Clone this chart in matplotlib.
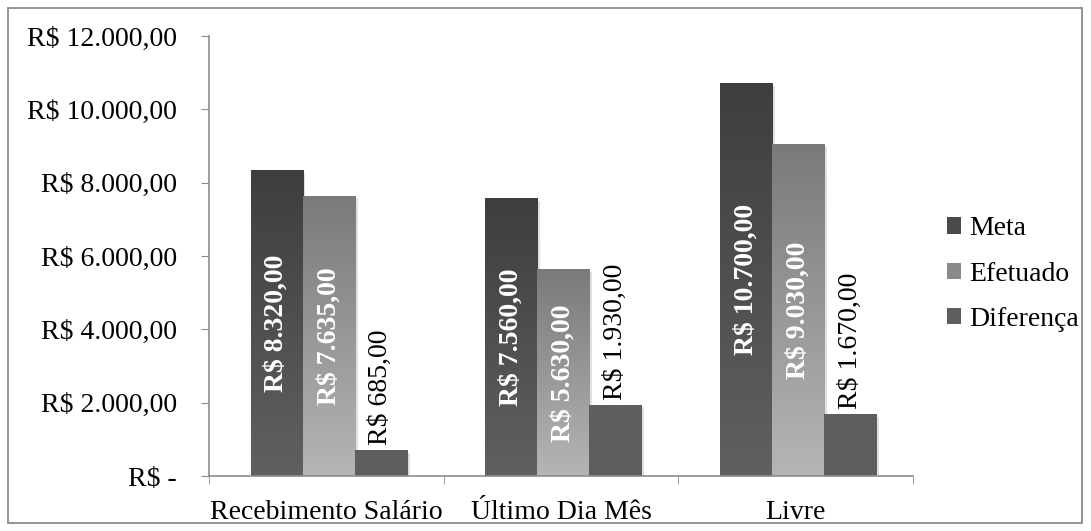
import matplotlib
matplotlib.use("Agg")
import matplotlib.pyplot as plt
import numpy as np
from matplotlib.patches import Rectangle

categories = ["Recebimento Salário", "Último Dia Mês", "Livre"]
series_names = ["Meta", "Efetuado", "Diferença"]
meta = [8320, 7560, 10700]
efetuado = [7635, 5630, 9030]
diferenca = [685, 1930, 1670]
yticks = [0, 2000, 4000, 6000, 8000, 10000, 12000]

def brl(v):
    if v == 0:
        return "R$ -"
    s = f"{v:,.2f}"
    s = s.replace(",", "X").replace(".", ",").replace("X", ".")
    return "R$ " + s

plt.rcParams['font.family'] = ['Liberation Serif', 'DejaVu Serif']
FS = 20

fig = plt.figure(figsize=(10.91, 5.31), dpi=100)
fig.patches.append(Rectangle((8/1091, 8/531), 1074/1091, 515/531, transform=fig.transFigure,
                             fill=False, edgecolor='#8c8c8c', linewidth=1.3))
ax = fig.add_axes([209/1091, 55/531, 704/1091, 440/531])

x = np.arange(len(categories))
w = 0.222
offs = [-w, 0, w]
data = [meta, efetuado, diferenca]
grads = [("#3e3e3e", "#606060"), ("#7a7a7a", "#b5b5b5"), ("#5e5e5e", "#5e5e5e")]
legend_cols = ["#4a4a4a", "#8a8a8a", "#5e5e5e"]

def hex2rgb(h):
    h = h.lstrip('#')
    return np.array([int(h[i:i+2], 16) / 255 for i in (0, 2, 4)])

for i, (vals, off, (ctop, cbot)) in enumerate(zip(data, offs, grads)):
    bars = ax.bar(x + off + 0.01, vals, w, color='none', edgecolor='none')
    for b in bars:
        x0, bw, h = b.get_x(), b.get_width(), b.get_height()
        ax.add_patch(Rectangle((x0 + 0.012, 0), bw, h - 60, facecolor='#000000', alpha=0.12,
                               edgecolor='none', zorder=1.5))
        t = np.linspace(0, 1, 256)[:, None]
        top, bot = hex2rgb(ctop), hex2rgb(cbot)
        img = top[None, None, :] * (1 - t[..., None]) + bot[None, None, :] * t[..., None]
        img = np.repeat(img, 2, axis=1)
        ax.imshow(img, extent=[x0, x0 + bw, 0, h], origin='upper', aspect='auto', zorder=2,
                  interpolation='bilinear')
    ax.bar(0, 0, 0, color=legend_cols[i], label=series_names[i])
    for xi, v in zip(x + off + 0.01, vals):
        if i < 2:
            ax.text(xi, v / 2, brl(v), rotation=90, ha='center', va='center', color='white',
                    fontsize=FS, fontweight='bold', zorder=5)
        else:
            ax.text(xi, v + 150, brl(v), rotation=90, ha='center', va='bottom', color='black',
                    fontsize=FS, zorder=5)

ax.set_xlim(-0.5, 2.5)
ax.set_ylim(0, 12000)
ax.set_yticks(yticks)
ax.set_yticklabels([brl(v) for v in yticks], fontsize=FS)
ax.set_xticks(x)
ax.set_xticklabels(categories, fontsize=FS)
ax.set_xticks([-0.5, 0.5, 1.5, 2.5], minor=True)
ax.tick_params(axis='x', which='major', length=0, pad=17)
ax.tick_params(axis='x', which='minor', length=6, color='#8c8c8c', direction='out')
ax.tick_params(axis='y', length=6, color='#8c8c8c', direction='out', pad=17)
for s in ['top', 'right']:
    ax.spines[s].set_visible(False)
for s in ['left', 'bottom']:
    ax.spines[s].set_color('#8c8c8c')
    ax.spines[s].set_linewidth(1.2)

leg = ax.legend(loc='center left', bbox_to_anchor=(1.048, 0.459), frameon=False, fontsize=FS,
                handlelength=0.52, handleheight=0.52, handletextpad=0.3, labelspacing=0.73,
                borderaxespad=0, borderpad=0)

fig.savefig("out.png", dpi=100)
